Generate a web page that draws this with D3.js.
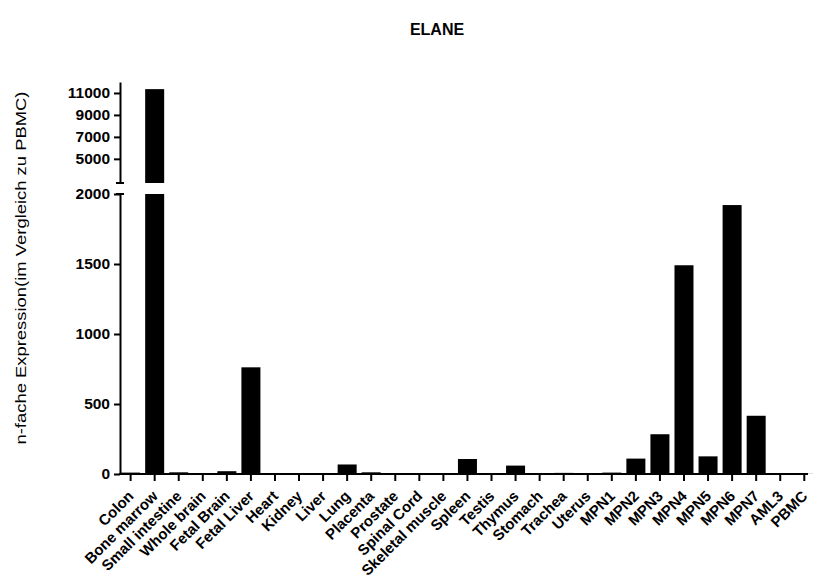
<!DOCTYPE html>
<html><head><meta charset="utf-8">
<script src="https://cdn.jsdelivr.net/npm/d3@7"></script>
<style>body{margin:0;background:#fff}svg{display:block}text{font-family:"Liberation Sans",Arial,sans-serif}</style>
</head><body><svg id="c" width="813" height="579"></svg>
<script>
const categories = ["Colon","Bone marrow","Small intestine","Whole brain","Fetal Brain","Fetal Liver","Heart","Kidney","Liver","Lung","Placenta","Prostate","Spinal Cord","Skeletal muscle","Spleen","Testis","Thymus","Stomach","Trachea","Uterus","MPN1","MPN2","MPN3","MPN4","MPN5","MPN6","MPN7","AML3","PBMC"];
const values = [10,11350,12,5,20,762,5,2,5,68,12,6,5,1,107,4,60,4,8,3,10,110,284,1491,126,1921,416,1,1];
const lowTicks = [0,500,1000,1500,2000];
const highTicks = [5000,7000,9000,11000];
const title = "ELANE";
const yLabel = "n-fache Expression(im Vergleich zu PBMC)";

const svg = d3.select("#c");
const axisX = 120, y0 = 474;
const yLow = d3.scaleLinear().domain([0,2000]).range([474,194]);
const yHigh = d3.scaleLinear().domain([2800,12000]).range([183,82]);
const x = d3.scaleBand().domain(categories).range([118.7,816.2]).paddingInner(0.21).paddingOuter(0.1);
const fnt = "'Liberation Sans',Arial,sans-serif";

// bars
const g = svg.append("g");
categories.forEach((c,i)=>{
  const v = values[i];
  const bx = x(c), bw = x.bandwidth();
  if (v <= 2000) {
    g.append("rect").attr("x",bx).attr("y",yLow(v)).attr("width",bw).attr("height",y0-yLow(v)).attr("fill","#000");
  } else {
    g.append("rect").attr("x",bx).attr("y",yLow(2000)).attr("width",bw).attr("height",y0-yLow(2000)).attr("fill","#000");
    g.append("rect").attr("x",bx).attr("y",yHigh(v)).attr("width",bw).attr("height",yHigh(2800)-yHigh(v)).attr("fill","#000");
  }
});

// y axes (broken)
const aLow = svg.append("g").attr("transform",`translate(${axisX},0)`)
  .call(d3.axisLeft(yLow).tickValues(lowTicks).tickFormat(d3.format("d")).tickSize(6).tickSizeOuter(0).tickPadding(4));
const aHigh = svg.append("g").attr("transform",`translate(${axisX},0)`)
  .call(d3.axisLeft(yHigh).tickValues(highTicks).tickFormat(d3.format("d")).tickSize(6).tickSizeOuter(0).tickPadding(4));
[aLow,aHigh].forEach(a=>{
  a.select(".domain").attr("stroke","#000").attr("stroke-width",2);
  a.selectAll(".tick line").attr("stroke","#000").attr("stroke-width",2);
  a.selectAll(".tick text").attr("font-size",15.5).attr("font-weight","bold").attr("fill","#000").attr("font-family",fnt);
});
svg.append("line").attr("x1",axisX-4).attr("x2",axisX+4).attr("y1",yHigh(2800)).attr("y2",yHigh(2800)).attr("stroke","#000").attr("stroke-width",2);
svg.append("line").attr("x1",axisX-4).attr("x2",axisX+4).attr("y1",yLow(2000)).attr("y2",yLow(2000)).attr("stroke","#000").attr("stroke-width",2);

// x axis
const ax = svg.append("g").attr("transform",`translate(0,${y0})`)
  .call(d3.axisBottom(x).tickSize(7).tickSizeOuter(0));
ax.select(".domain").attr("d",`M${axisX-1},0H808`).attr("stroke","#000").attr("stroke-width",2);
ax.selectAll(".tick line").attr("stroke","#000").attr("stroke-width",2);
ax.selectAll(".tick text")
  .attr("font-size",15).attr("font-weight","bold").attr("fill","#000")
  .attr("font-family",fnt)
  .attr("text-anchor","end").attr("dy",0).attr("x",0).attr("y",0)
  .attr("transform","translate(4,23) rotate(-45)");

// title
svg.append("text").attr("x",437).attr("y",35).attr("text-anchor","middle")
  .attr("font-size",16).attr("font-weight","bold").text(title);
// y label
svg.append("text").attr("transform","translate(26,268) rotate(-90)").attr("text-anchor","middle")
  .attr("font-size",15.5).attr("textLength",353).attr("lengthAdjust","spacingAndGlyphs").text(yLabel);
</script></body></html>
